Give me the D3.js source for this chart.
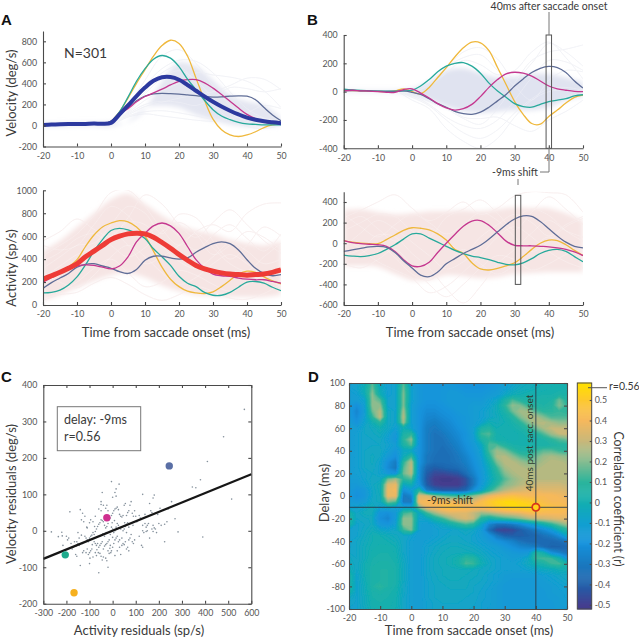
<!DOCTYPE html>
<meta charset="utf-8" />
<style>
  body { margin: 0; background: white; }
  text { font-family: Lato, sans-serif; fill: #3a3a3a; }
  .tick text { font-size: 8.8px; fill: #555; }
  .axis path, .axis line { stroke: #4a4a4a; stroke-width: 1.1px; }
  .title { font-size: 13px; }
  .panel { font-family: "Liberation Sans", sans-serif; font-weight: bold; font-size: 15px; fill: #111; }
  .faint { fill: none; stroke-width: 1px; }
</style>

<body>
  <svg id="figure" width="639" height="639"></svg>
</body>
<script src="https://d3js.org/d3.v7.min.js"></script>
<script>
  // sample times of the traces (ms from saccade onset)
  const times = [-20, -17.5, -15, -12.5, -10, -7.5, -5, -2.5, 0, 2.5, 5, 7.5, 10, 12.5, 15, 17.5, 20, 22.5, 25, 27.5, 30, 32.5, 35, 37.5, 40, 42.5, 45, 47.5, 50];
  const coarseTimes = [-20, -15, -10, -5, 0, 5, 10, 15, 20, 25, 30, 35, 40, 45, 50];
  const timeTicks = [-20, -10, 0, 10, 20, 30, 40, 50];

  // panel A top: velocity
  const velYellow = [5, 8, 12, 15, 12, 15, 15, 12, 40, 130, 260, 400, 530, 660, 760, 810, 780, 660, 450, 240, 60, -40, -90, -105, -90, -60, -20, 5, 15];
  const velGreen = [5, 8, 12, 15, 12, 15, 15, 12, 40, 130, 270, 420, 540, 630, 665, 640, 560, 440, 340, 240, 150, 90, 55, 30, 15, 10, 5, 5, 5];
  const velMagenta = [5, 8, 12, 15, 12, 15, 15, 12, 40, 110, 160, 225, 275, 310, 345, 385, 420, 435, 435, 405, 355, 295, 230, 165, 105, 65, 35, 20, 15];
  const velSlate = [5, 8, 12, 15, 12, 15, 15, 12, 40, 110, 170, 235, 280, 300, 305, 302, 297, 290, 283, 275, 270, 272, 278, 282, 278, 245, 170, 100, 45];
  const velMean = [5, 8, 12, 14, 14, 15, 18, 16, 25, 105, 190, 280, 360, 425, 458, 460, 435, 385, 330, 275, 225, 180, 140, 105, 75, 55, 40, 30, 22];
  const velBandTop = [20, 20, 25, 25, 30, 30, 150, 420, 600, 560, 430, 290, 230, 190, 70];
  const velBandLow = [-10, -10, -5, -5, -10, 40, 170, 190, 170, 100, 50, 10, -10, -10, 0];
  const velFaint = [
    [0, 10, 10, 15, 10, 190, 430, 660, 720, 590, 380, 190, 60, 10, 10],
    [0, 10, 10, 15, 10, 170, 380, 540, 620, 610, 500, 320, 160, 70, 20],
    [0, 10, 10, 15, 10, 120, 240, 330, 400, 500, 480, 460, 420, 330, 170],
    [0, 10, 10, 15, 10, 100, 180, 220, 260, 290, 320, 380, 450, 440, 340],
    [0, 10, 10, 15, 10, 110, 200, 230, 220, 190, 260, 360, 350, 320, 350],
    [0, 10, 10, 15, 10, 90, 130, 140, 120, 90, 60, 70, 120, 190, 160],
    [0, 10, 10, 15, 10, 80, 110, 90, 70, 50, 40, 60, 90, 70, 30],
    [0, 10, 10, 15, 10, 130, 300, 450, 520, 430, 260, 120, 40, -10, 10],
    [0, 10, 10, 15, 10, 140, 320, 500, 560, 400, 200, 60, -10, -30, 0]
  ];

  // panel A bottom: activity
  const actYellow = [215, 240, 280, 330, 395, 510, 610, 680, 715, 735, 725, 680, 600, 470, 330, 225, 160, 120, 105, 100, 115, 160, 215, 270, 295, 285, 245, 210, 185];
  const actGreen = [105, 110, 130, 175, 245, 350, 470, 570, 650, 668, 655, 625, 580, 490, 420, 345, 250, 190, 160, 110, 85, 85, 110, 155, 200, 205, 190, 155, 125];
  const actMagenta = [200, 240, 280, 315, 340, 350, 345, 330, 315, 340, 420, 550, 625, 690, 715, 690, 625, 510, 395, 320, 270, 255, 250, 235, 225, 220, 220, 205, 190];
  const actSlate = [145, 195, 235, 275, 330, 355, 360, 340, 320, 290, 275, 310, 390, 425, 425, 410, 400, 410, 460, 500, 535, 550, 535, 480, 395, 320, 275, 255, 265];
  const actMean = [225, 255, 285, 320, 360, 420, 470, 520, 570, 600, 620, 625, 620, 590, 545, 495, 440, 390, 345, 315, 295, 280, 270, 265, 260, 265, 270, 285, 305];
  const actBandTop = [470, 560, 680, 800, 920, 970, 880, 780, 700, 650, 620, 570, 540, 520, 560];
  const actBandLow = [40, 90, 150, 210, 260, 280, 240, 170, 120, 90, 80, 70, 70, 70, 90];
  const actFaint = [
    [560, 640, 750, 660, 600, 760, 960, 880, 700, 590, 720, 830, 700, 560, 450],
    [430, 520, 620, 780, 980, 1000, 860, 660, 520, 640, 700, 640, 800, 880, 890],
    [320, 420, 520, 540, 700, 860, 800, 620, 790, 760, 560, 400, 520, 680, 600],
    [520, 480, 520, 700, 860, 780, 620, 700, 600, 480, 610, 700, 580, 470, 620],
    [180, 260, 360, 520, 640, 520, 360, 420, 520, 620, 500, 360, 300, 420, 540],
    [80, 120, 200, 320, 400, 280, 160, 200, 300, 260, 180, 120, 180, 260, 300],
    [40, 90, 110, 190, 240, 180, 90, 40, 90, 160, 120, 60, 50, 100, 180],
    [280, 200, 150, 260, 420, 520, 420, 280, 180, 240, 360, 440, 360, 240, 160],
    [380, 460, 580, 620, 520, 420, 500, 640, 720, 620, 440, 520, 640, 590, 480],
    [240, 340, 440, 500, 600, 720, 700, 520, 380, 320, 420, 540, 470, 360, 400]
  ];

  // panel B top: velocity residuals
  const resVelYellow = [10, 8, 5, 3, 2, 0, 5, 20, 0, -15, 30, 100, 170, 245, 310, 350, 345, 290, 170, 50, -70, -160, -225, -230, -175, -130, -80, -40, -25];
  const resVelGreen = [18, 12, 8, 6, 4, 3, 3, 5, 10, 40, 85, 140, 180, 200, 205, 180, 130, 60, 5, -40, -85, -105, -110, -90, -70, -60, -50, -30, -22];
  const resVelMagenta = [5, 10, 6, 4, 0, -5, -5, 15, 20, -10, -45, -85, -115, -130, -120, -90, -35, 30, 85, 125, 137, 130, 110, 75, 40, 20, 10, 2, 0];
  const resVelSlate = [8, 8, 6, 5, 3, 2, 2, 5, -5, -20, -50, -85, -110, -140, -155, -160, -145, -110, -65, -20, 40, 90, 135, 165, 178, 170, 135, 75, 25];
  const resVelBandTop = [10, 10, 10, 10, 20, 70, 150, 165, 130, 100, 105, 125, 125, 100, 65];
  const resVelBandLow = [-5, -5, -5, -5, -25, -60, -105, -140, -150, -140, -130, -130, -110, -60, -35];
  const resVelFaint = [
    [5, 5, 5, 5, -60, -120, -260, -350, -400, -330, -180, -60, 0, 10, 0],
    [5, 5, 5, 5, -40, -100, -200, -290, -330, -270, -150, -50, 20, 30, 10],
    [5, 5, 5, 5, -30, -90, -180, -240, -260, -200, -60, 100, 220, 210, 150],
    [5, 5, 5, 5, -20, -70, -120, -190, -230, -120, 60, 220, 280, 300, 330],
    [5, 5, 5, 5, -10, 30, 160, 280, 310, 230, 90, 200, 340, 280, 180],
    [5, 5, 5, 5, 0, 40, 130, 220, 190, 120, 150, 280, 350, 240, 90],
    [5, 5, 5, 5, 0, 50, 170, 240, 260, 150, 40, -60, 80, 150, 140],
    [5, 5, 5, 5, -10, -50, -100, -180, -190, -180, -240, -280, -200, -140, -60]
  ];

  // panel B bottom: activity residuals
  const resActYellow = [25, 10, 0, -5, -5, 35, 80, 125, 150, 145, 130, 90, 30, -60, -100, -190, -250, -260, -245, -220, -190, -130, -60, 0, 30, 25, -15, -70, -120];
  const resActGreen = [-115, -125, -130, -120, -100, -60, -15, 40, 90, 90, 50, 10, -30, -70, -100, -125, -140, -160, -185, -205, -210, -190, -150, -100, -70, -60, -80, -130, -180];
  const resActMagenta = [25, 5, -5, -10, -15, -30, -80, -160, -220, -225, -185, -90, 0, 85, 165, 215, 220, 175, 100, 20, -20, -25, -25, -30, -35, -45, -60, -85, -120];
  const resActSlate = [-80, -65, -50, -35, -30, -40, -90, -170, -240, -310, -325, -280, -200, -150, -100, -60, -20, 40, 110, 180, 235, 265, 260, 210, 140, 70, 10, -30, -45];
  const resActBandTop = [320, 330, 300, 280, 290, 310, 310, 320, 310, 330, 350, 340, 340, 290, 220];
  const resActBandLow = [-220, -220, -230, -300, -360, -350, -310, -320, -340, -330, -300, -290, -280, -280, -280];
  const resActFaint = [
    [250, 320, 400, 470, 340, 220, 300, 400, 280, 340, 460, 500, 490, 470, 300],
    [120, 200, 280, 260, 120, 60, 250, 330, 420, 290, 130, 300, 450, 330, 180],
    [-120, -60, 80, 60, -100, -240, -440, -580, -420, -200, -60, 100, 220, 120, 60],
    [-200, -240, -160, -60, -220, -400, -520, -400, -240, -120, -160, -260, -200, -110, -60],
    [60, -60, -180, -260, -340, -480, -420, -280, -120, 60, 160, 60, -80, -180, -240],
    [180, 260, 140, 20, 80, 150, 40, -100, 60, 180, 280, 200, 70, 180, 260],
    [-40, 100, 220, 140, 10, -120, -250, -180, -40, 120, 240, 330, 270, 120, 20],
    [280, 160, 60, 180, 280, 200, 90, 180, 300, 220, 60, -80, 20, 160, 240],
    [-180, -100, -20, -140, -300, -360, -220, -60, -200, -300, -210, -60, 60, -70, -190]
  ];

  // panel C: scatter of residuals [activity, velocity]
  const residualPairs = [
    [570, 333], [480, 258], [410, 190], [380, 140], [345, 120], [360, 118], [515, 87], [390, -17], [283, -3], [270, 33],
    [255, 80], [225, -30], [-265, -3], [-235, -16], [-220, -4], [-218, -14], [-185, 52], [-140, -95], [-60, -115], [-20, -100],
    [-100, -90], [130, 100], [180, 98], [175, 90], [160, 75], [205, 62], [240, 60], [-5, 135], [15, 115], [10, 105],
    [28, 128], [15, 95], [0, 92], [-45, 105], [-50, 80], [-50, 72], [-40, 70], [-140, 58], [-130, 48], [-135, 30],
    [-125, 25], [-120, 40], [-110, 8], [-112, 10], [-150, -5], [-190, -20], [-195, -25], [-180, -35], [-175, -50], [-155, -30],
    [-150, -35], [-145, -40], [-160, -65], [-155, -70], [-130, -60], [-125, -55], [-115, -60], [-110, -50], [-105, -65], [-100, -60],
    [-95, -55], [-90, -50], [-98, -75], [-85, -72], [-80, -30], [-75, -35], [-70, -40], [-65, -35], [-60, -45], [-55, -40],
    [-50, -35], [-45, -30], [-40, -50], [-35, -42], [-30, -38], [-25, -35], [-20, -30], [-15, -25], [-10, -40], [-5, -55],
    [0, -45], [5, -35], [10, -25], [15, -20], [20, -15], [25, -30], [30, -45], [35, -65], [40, -40], [45, -35],
    [50, -38], [55, -30], [60, -50], [65, -45], [70, -25], [75, -20], [80, -10], [85, -30], [90, -35], [95, -25],
    [-70, -68], [-62, -60], [-55, -62], [-50, -70], [-45, -80], [-40, -72], [-30, -75], [-25, -82], [-15, -62], [-8, -60],
    [10, -68], [20, -55], [-120, -15], [-115, -20], [-110, -25], [-105, -30], [-100, -20], [-95, -15], [-90, -12], [-85, -5],
    [-80, -10], [-75, -2], [-70, 5], [-65, 12], [-60, 18], [-55, 22], [-50, 30], [-45, 28], [-40, 25], [-35, 15],
    [-30, 8], [-25, 12], [-20, 20], [-15, 30], [-10, 35], [-5, 42], [0, 48], [5, 55], [10, 60], [15, 62],
    [20, 65], [25, 58], [30, 45], [35, 40], [40, 38], [45, 42], [50, 70], [55, 75], [60, 42], [65, 50],
    [70, 55], [75, 70], [80, 80], [85, 48], [90, 40], [95, 55], [100, 40], [20, 20], [25, 15], [30, 8],
    [35, 5], [40, 10], [45, 0], [50, 5], [55, 12], [60, 18], [65, 22], [70, 10], [-5, 10], [0, 5],
    [5, -5], [10, 0], [15, 10], [-75, 40], [-85, 25], [-95, 30], [-100, 22], [-60, 60], [-50, 55], [-30, 62],
    [-20, 55], [-25, 70], [125, -40], [130, -45], [135, -5], [130, 15], [140, 20], [145, 10], [150, 15], [155, 20],
    [130, 0], [145, -2], [150, 0], [160, -20], [170, 5], [175, 15], [180, 8], [185, 5], [190, -5], [175, -2],
    [200, 20], [210, 15], [225, 18], [235, 25], [195, 45], [170, 50], [165, 55], [140, 45], [120, 35], [115, -15],
    [-215, -40], [-200, -15], [-165, -30], [-170, -45], [-145, -20], [-135, -12], [-75, -60], [-68, -52], [-35, -15], [-28, -5],
    [-10, -10], [0, -18], [-20, -55], [-12, -48], [30, -25], [40, -20], [70, -55], [-130, -35], [-88, -38], [-78, 12],
    [52, 22], [88, 15], [105, 25], [115, 42], [-158, -42], [-55, -15], [8, 28], [-2, 22], [-42, -8], [60, -5]
  ];
  const highlightPoints = [
    { x: 245, y: 178, color: "#5a6fa5" },
    { x: -25, y: 36, color: "#cf2f8f" },
    { x: -205, y: -66, color: "#1eaa8c" },
    { x: -167, y: -170, color: "#f6b01e" }
  ];
  const fitLineX = [-300, 600];
  const fitLineY = [-77, 155];

  // panel D: correlation map, one row per delay, one value (r x 100) per time
  const delays = d3.range(100, -101, -5);
  const corrRows = [
    [-10, -8, -2, 15, -5, -10, -8, 15, -10, -15, -18, -18, -18, -16, -18, -20, -20, -20, -18, -15, -10, -8, -5, -3, -2, 0, 0, 2, 2],
    [-10, -8, 0, 18, -2, -10, -8, 18, -8, -15, -18, -18, -16, -15, -16, -18, -18, -18, -16, -14, -10, -6, -3, -2, 0, 0, 2, 2, 3],
    [-12, -10, -2, 22, 0, -10, -8, 20, -8, -15, -18, -18, -16, -14, -14, -16, -16, -16, -14, -12, -6, -2, 0, 2, 2, 3, 3, 5, 5],
    [-12, -12, -8, 22, 15, -8, -8, 20, -8, -15, -18, -18, -16, -14, -14, -14, -14, -14, -10, -6, 5, 14, 8, 5, 5, 5, 6, 18, 8],
    [-14, -20, -10, 22, 22, -8, -8, 20, -10, -16, -20, -20, -18, -15, -14, -14, -12, -12, -8, -2, 10, 22, 20, 12, 8, 6, 8, 20, 12],
    [-14, -24, -12, 18, 28, -5, -8, 25, -10, -18, -22, -22, -20, -18, -15, -14, -12, -10, -6, -2, 5, 18, 25, 24, 15, 10, 10, 12, 10],
    [-14, -22, -10, 10, 30, -5, -8, 28, -10, -18, -24, -25, -22, -20, -17, -15, -12, -10, -6, -3, 2, 8, 20, 26, 26, 20, 14, 14, 14],
    [-12, -18, -8, 0, 10, -5, -8, 25, -10, -18, -26, -28, -25, -22, -18, -15, -12, -8, 0, -2, 0, 4, 10, 20, 27, 28, 25, 22, 22],
    [-12, -12, -6, -4, 0, -5, -10, 0, -8, -18, -28, -30, -27, -24, -20, -16, -10, 5, 8, 0, 0, 2, 5, 10, 18, 26, 30, 30, 30],
    [-12, -10, -6, -5, -3, -8, -15, 5, 10, -18, -28, -32, -30, -26, -22, -18, -10, 12, 15, 2, 0, 0, 2, 5, 8, 15, 24, 30, 32],
    [-12, -10, -6, -6, -5, -10, -16, 10, 22, -18, -28, -32, -32, -28, -24, -18, -12, 5, 10, 2, 2, 0, 2, 3, 4, 6, 10, 15, 18],
    [-12, -10, -6, -6, -6, -8, -12, 5, 15, -18, -28, -32, -33, -30, -26, -20, -14, -5, 15, 15, 8, 4, 3, 3, 5, 5, 6, 8, 8],
    [-12, -10, -6, -5, -5, -10, -16, -5, -5, -18, -28, -32, -34, -32, -28, -22, -16, -8, 14, 24, 20, 12, 6, 6, 12, 16, 16, 12, 10],
    [-12, -10, -6, -4, -6, -14, -20, -2, 12, -18, -30, -33, -34, -33, -30, -25, -18, -10, 8, 26, 28, 22, 15, 12, 18, 24, 26, 24, 22],
    [-12, -10, -6, -4, -8, -20, -28, 10, 28, -18, -30, -34, -34, -33, -31, -27, -20, -12, 2, 20, 28, 28, 24, 20, 22, 26, 28, 28, 26],
    [-12, -10, -6, -5, -8, -22, -30, 15, 30, -20, -36, -40, -38, -36, -34, -30, -22, -14, -2, 12, 25, 28, 28, 26, 26, 28, 28, 28, 28],
    [-12, -10, -8, -6, -8, -15, -18, 18, 28, -20, -40, -46, -46, -44, -42, -34, -25, -15, -4, 8, 20, 26, 28, 28, 28, 28, 28, 28, 28],
    [-12, -12, -8, -5, -5, 18, 25, 10, 15, -20, -42, -50, -52, -52, -50, -44, -30, -16, -5, 5, 15, 22, 26, 28, 28, 28, 28, 28, 28],
    [-14, -14, -10, -5, -2, 35, 38, -5, 0, -16, -40, -48, -50, -50, -50, -44, -30, -14, -2, 10, 20, 24, 28, 30, 32, 32, 32, 32, 30],
    [-14, -18, -15, -6, -2, 38, 40, -20, -12, 8, -28, -36, -40, -40, -40, -36, -20, -8, 8, 20, 28, 32, 34, 36, 38, 36, 36, 36, 34],
    [-14, -20, -16, -6, -3, 38, 38, -30, -25, 35, 34, 24, 18, 14, 12, 16, 22, 30, 38, 42, 44, 46, 44, 42, 42, 42, 42, 40, 38],
    [-12, -15, -12, -5, -4, 20, 15, -30, -30, 40, 42, 42, 40, 40, 38, 34, 36, 44, 50, 54, 56, 56, 54, 52, 48, 44, 42, 42, 40],
    [-10, -8, -6, -2, -8, -5, -10, -8, -10, 20, 38, 42, 46, 48, 46, 44, 44, 44, 48, 52, 54, 56, 56, 56, 56, 48, 46, 44, 43],
    [5, -6, -2, -2, -18, -20, -14, 12, 16, -5, 12, 24, 32, 36, 36, 36, 30, 24, 26, 30, 34, 36, 38, 42, 44, 42, 42, 42, 40],
    [8, -6, -5, -4, -20, -24, -14, 22, 22, -8, -5, 4, 12, 22, 30, 34, 30, 8, 2, 8, 12, 15, 20, 26, 30, 32, 34, 36, 36],
    [6, -8, -6, -4, -15, -18, -10, 22, 22, -10, -12, -8, -4, 2, 8, 14, 10, -5, -24, -32, -32, -28, -22, -14, -6, 2, 10, 18, 25],
    [-8, -8, -5, -2, -6, -8, -6, 12, 20, -10, -12, -10, -8, -8, -6, -4, -6, -12, -34, -46, -48, -46, -40, -34, -28, -22, -14, 0, 8],
    [-8, -8, -4, 0, 0, -2, -4, -6, -8, -12, -12, -10, -8, -6, -6, -6, -8, -12, -18, -30, -38, -40, -40, -38, -36, -32, -28, -20, -5],
    [-8, -6, -3, 0, 1, 0, -2, -6, -10, -12, -10, -8, -6, -5, -5, -6, -8, -10, -14, -18, -22, -26, -32, -35, -36, -36, -36, -34, -30],
    [-8, -6, -2, 1, 2, 2, 0, -6, -10, -12, -8, -6, -4, -3, -3, -4, -5, -8, -10, -12, -16, -20, -24, -26, -28, -34, -38, -38, -36],
    [-6, -6, -2, 2, 3, 3, 1, -6, -10, -12, -8, -5, -3, -2, -2, -2, -3, -5, -8, -10, -12, -14, -16, -15, 8, 0, -20, -26, -32],
    [-4, -6, -2, 3, 4, 4, 2, -5, -10, -12, -7, -4, -2, -1, 2, 10, 8, -2, -6, -8, -10, -12, -10, -5, 12, 14, 12, 2, -16],
    [-2, -6, 0, 4, 5, 5, 3, -4, -10, -12, -7, -4, -2, -1, 3, 14, 12, 0, -5, -8, -10, -10, -8, -4, 2, 5, 12, 14, 5],
    [0, -6, 0, 5, 6, 6, 4, -4, -10, -12, -7, -4, -3, -2, -2, -2, -3, -5, -6, -8, -10, -10, -10, -8, -6, -4, -3, 0, 0],
    [6, -8, 0, 5, 6, 6, 4, -4, -10, -12, -7, -5, -3, -3, -3, -3, -4, -5, -8, -10, -12, -13, -13, -13, -12, -10, -8, -6, -5],
    [6, -8, -1, 5, 6, 6, 4, -4, -10, -12, -8, -5, -4, -3, -3, -4, -5, -6, -8, -10, -13, -14, -14, -14, -14, -12, -10, -8, -6],
    [8, -8, -2, 6, 10, 6, 3, -5, -10, -12, -8, -6, -5, -4, -4, -4, -6, -7, -9, -12, -14, -14, -14, -14, -14, -13, -12, -10, -8],
    [4, -8, -2, 4, 5, 4, 2, -5, -10, -12, -8, -6, -5, -5, -5, -5, -6, -8, -10, -12, -14, -15, -15, -15, -14, -14, -12, -11, -10],
    [-4, -8, -3, 3, 4, 3, 1, -6, -10, -12, -8, -6, -5, -5, -5, -6, -7, -8, -10, -12, -14, -15, -15, -15, -15, -14, -13, -12, -10],
    [-6, -8, -3, 2, 3, 2, 1, -6, -10, -12, -9, -7, -6, -6, -6, -6, -7, -9, -10, -12, -14, -15, -15, -15, -15, -14, -14, -12, -11],
    [-8, -8, -4, 1, 2, 2, 0, -6, -10, -12, -9, -7, -6, -6, -6, -7, -8, -9, -11, -12, -14, -15, -15, -15, -15, -15, -14, -13, -12]
  ];
  const colorStops = [-0.52, -0.5, -0.4, -0.3, -0.2, -0.1, 0, 0.1, 0.2, 0.3, 0.4, 0.5, 0.58];
  const colorValues = ["#423c8c", "#453f90", "#2060aa", "#1a7ac0", "#1592dc", "#12a0d0", "#12aeb0", "#2cb59c", "#86bc90", "#c9b87a", "#f6b85c", "#fdc92e", "#ffe000"];
  const colorTicks = [-0.5, -0.4, -0.3, -0.2, -0.1, 0, 0.1, 0.2, 0.3, 0.4, 0.5];

  const traceColors = { yellow: "#efb83c", green: "#27a99b", magenta: "#c5378f", slate: "#5f6d97" };

  const svg = d3.select("#figure");
  const plainFormat = (d) => String(d);

  svg.append("filter").attr("id", "bandBlur").append("feGaussianBlur").attr("stdDeviation", 2.5);

  // one line panel: faint traces, shaded band, coloured traces
  function linePanel(opts) {
    const x = d3.scaleLinear().domain([-20, 50]).range(opts.xRange);
    const y = d3.scaleLinear().domain(opts.yDomain).range(opts.yRange);
    const g = svg.append("g");

    const clipId = ("clip" + opts.xRange[0] + opts.yRange[0]).replace(/\./g, "");
    svg.append("clipPath").attr("id", clipId).append("rect")
      .attr("x", opts.xRange[0]).attr("width", opts.xRange[1] - opts.xRange[0])
      .attr("y", y(opts.clipTop)).attr("height", opts.yRange[0] - y(opts.clipTop));
    const plot = g.append("g").attr("clip-path", "url(#" + clipId + ")");

    const coarseLine = d3.line().curve(d3.curveCatmullRom)
      .x((d, i) => x(coarseTimes[i])).y((d) => y(d));
    plot.selectAll(".faint").data(opts.faint).enter().append("path")
      .attr("class", "faint").attr("stroke", opts.faintColor).attr("d", coarseLine);

    const band = d3.area().curve(d3.curveCatmullRom)
      .x((d, i) => x(coarseTimes[i]))
      .y0((d, i) => y(opts.bandLow[i])).y1((d) => y(d));
    plot.append("path").attr("d", band(opts.bandTop)).attr("fill", opts.bandColor).attr("filter", "url(#bandBlur)");
    // thin pale streaks over the band, where single trials leave gaps
    plot.selectAll(".streak").data(opts.faint).enter().append("path")
      .attr("fill", "none").attr("stroke", "#fff").attr("stroke-width", 0.7).attr("opacity", 0.35).attr("d", coarseLine);

    const fineLine = d3.line().curve(d3.curveCatmullRom)
      .x((d, i) => x(times[i])).y((d) => y(d));
    opts.traces.forEach((t) => {
      plot.append("path").attr("fill", "none").attr("stroke", t.color)
        .attr("stroke-width", t.width || 1.3).attr("d", fineLine(t.values));
    });

    // axes with ticks pointing into the plot
    g.append("g").attr("class", "axis").attr("transform", "translate(0," + opts.yRange[0] + ")")
      .call(d3.axisBottom(x).tickValues(timeTicks).tickFormat(plainFormat).tickSize(-3).tickSizeOuter(0).tickPadding(6));
    g.append("g").attr("class", "axis").attr("transform", "translate(" + opts.xRange[0] + ",0)")
      .call(d3.axisLeft(y).tickValues(opts.yTicks).tickFormat(plainFormat).tickSize(-3).tickSizeOuter(0).tickPadding(6));
    return { x, y };
  }

  linePanel({
    xRange: [43, 281], yRange: [146.5, 31], yDomain: [-200, 898], clipTop: 898,
    yTicks: [-200, 0, 200, 400, 600, 800],
    faint: velFaint, faintColor: "#eff0f5", bandTop: velBandTop, bandLow: velBandLow, bandColor: "#e4e6f1",
    traces: [
      { color: traceColors.yellow, values: velYellow },
      { color: traceColors.slate, values: velSlate },
      { color: traceColors.magenta, values: velMagenta },
      { color: traceColors.green, values: velGreen },
      { color: "#2c399f", values: velMean, width: 4 }
    ]
  });

  linePanel({
    xRange: [43, 281], yRange: [305, 190.3], yDomain: [0, 1000], clipTop: 1000,
    yTicks: [0, 200, 400, 600, 800, 1000],
    faint: actFaint, faintColor: "#f7ecec", bandTop: actBandTop, bandLow: actBandLow, bandColor: "#f6e5e4",
    traces: [
      { color: traceColors.yellow, values: actYellow },
      { color: traceColors.green, values: actGreen },
      { color: traceColors.slate, values: actSlate },
      { color: traceColors.magenta, values: actMagenta },
      { color: "#ee3b36", values: actMean, width: 5 }
    ]
  });

  const panelB1 = linePanel({
    xRange: [343.7, 583], yRange: [148.3, 35], yDomain: [-400, 400], clipTop: 400,
    yTicks: [-400, -200, 0, 200, 400],
    faint: resVelFaint, faintColor: "#eff0f5", bandTop: resVelBandTop, bandLow: resVelBandLow, bandColor: "#e0e3f0",
    traces: [
      { color: traceColors.yellow, values: resVelYellow },
      { color: traceColors.green, values: resVelGreen },
      { color: traceColors.slate, values: resVelSlate },
      { color: traceColors.magenta, values: resVelMagenta }
    ]
  });

  const panelB2 = linePanel({
    xRange: [343.7, 583], yRange: [305, 191.7], yDomain: [-600, 500], clipTop: 500,
    yTicks: [-600, -400, -200, 0, 200, 400],
    faint: resActFaint, faintColor: "#f7ecec", bandTop: resActBandTop, bandLow: resActBandLow, bandColor: "#f6e5e4",
    traces: [
      { color: traceColors.yellow, values: resActYellow },
      { color: traceColors.green, values: resActGreen },
      { color: traceColors.magenta, values: resActMagenta },
      { color: traceColors.slate, values: resActSlate }
    ]
  });

  // the two time windows and their leaders
  const windowB1 = [39.2, 40.8];
  const windowB2 = [30.2, 31.8];
  svg.append("rect")
    .attr("x", panelB1.x(windowB1[0])).attr("width", panelB1.x(windowB1[1]) - panelB1.x(windowB1[0]))
    .attr("y", panelB1.y(400)).attr("height", panelB1.y(-400) - panelB1.y(400))
    .attr("fill", "none").attr("stroke", "#555").attr("stroke-width", 1);
  svg.append("rect")
    .attr("x", panelB2.x(windowB2[0])).attr("width", panelB2.x(windowB2[1]) - panelB2.x(windowB2[0]))
    .attr("y", panelB2.y(465)).attr("height", panelB2.y(-400) - panelB2.y(465))
    .attr("fill", "none").attr("stroke", "#555").attr("stroke-width", 1);
  svg.append("path").attr("d", "M549,12V35M549,148V172H540M518,179V185")
    .attr("fill", "none").attr("stroke", "#777").attr("stroke-width", 1);
  svg.append("text").attr("x", 549).attr("y", 10).attr("text-anchor", "middle").style("font-size", "10.5px").text("40ms after saccade onset");
  svg.append("text").attr("x", 515).attr("y", 176).attr("text-anchor", "middle").style("font-size", "10.5px").text("-9ms shift");

  // titles of the top panels
  const yLabel = (txt, px, py) => svg.append("text").attr("class", "title").attr("text-anchor", "middle")
    .attr("transform", "translate(" + px + "," + py + ") rotate(-90)").text(txt);
  const xLabel = (txt, px, py) => svg.append("text").attr("class", "title").attr("text-anchor", "middle")
    .attr("x", px).attr("y", py).text(txt);

  yLabel("Velocity (deg/s)", 16, 93);
  yLabel("Activity (sp/s)", 16, 268);
  xLabel("Time from saccade onset (ms)", 166, 337);
  xLabel("Time from saccade onset (ms)", 470, 337);
  svg.append("text").attr("x", 64).attr("y", 58).style("font-size", "14px").text("N=301");

  [["A", 1, 25], ["B", 307, 25], ["C", 1, 382], ["D", 308, 382]].forEach((p) => {
    svg.append("text").attr("class", "panel").attr("x", p[1]).attr("y", p[2]).text(p[0]);
  });

  // panel C
  const xC = d3.scaleLinear().domain([-300, 600]).range([43.3, 251.3]);
  const yC = d3.scaleLinear().domain([-200, 400]).range([603.7, 385]);
  const gC = svg.append("g");
  gC.selectAll(".dot").data(residualPairs).enter().append("circle")
    .attr("cx", (d) => xC(d[0])).attr("cy", (d) => yC(d[1])).attr("r", 0.8).attr("fill", "#85919c");
  gC.append("line")
    .attr("x1", xC(fitLineX[0])).attr("y1", yC(fitLineY[0]))
    .attr("x2", xC(fitLineX[1])).attr("y2", yC(fitLineY[1]))
    .attr("stroke", "#161616").attr("stroke-width", 2.2);
  gC.selectAll(".big").data(highlightPoints).enter().append("circle")
    .attr("cx", (d) => xC(d.x)).attr("cy", (d) => yC(d.y)).attr("r", 3.7).attr("fill", (d) => d.color);
  gC.append("g").attr("class", "axis").attr("transform", "translate(0,603.7)")
    .call(d3.axisBottom(xC).ticks(9).tickFormat(plainFormat).tickSize(-3).tickSizeOuter(0).tickPadding(6));
  gC.append("g").attr("class", "axis").attr("transform", "translate(43.3,0)")
    .call(d3.axisLeft(yC).ticks(6).tickFormat(plainFormat).tickSize(-3).tickSizeOuter(0).tickPadding(6));
  gC.append("g").attr("class", "axis").attr("transform", "translate(0,385)")
    .call(d3.axisTop(xC).ticks(9).tickFormat("").tickSize(-3).tickSizeOuter(0));
  gC.append("g").attr("class", "axis").attr("transform", "translate(251.3,0)")
    .call(d3.axisRight(yC).ticks(6).tickFormat("").tickSize(-3).tickSizeOuter(0));
  gC.append("rect").attr("x", 57.3).attr("y", 406.7).attr("width", 83.4).attr("height", 44)
    .attr("fill", "white").attr("stroke", "#777").attr("stroke-width", 1);
  gC.append("text").attr("x", 64).attr("y", 424).style("font-size", "12.5px").text("delay: -9ms");
  gC.append("text").attr("x", 64).attr("y", 441).style("font-size", "12.5px").text("r=0.56");
  yLabel("Velocity residuals (deg/s)", 16, 494);
  xLabel("Activity residuals (sp/s)", 139, 635);

  // panel D: filled contours of the correlation map
  const xD = d3.scaleLinear().domain([-20, 50]).range([349, 567]);
  const yD = d3.scaleLinear().domain([-100, 100]).range([609, 383]);
  const color = d3.scaleLinear().domain(colorStops).range(colorValues);
  const gridValues = corrRows.flat().map((v) => v / 100);
  const levels = d3.range(-0.6, 0.6, 0.015);
  const contours = d3.contours().size([times.length, delays.length]).thresholds(levels)(gridValues);
  // grid index to data coordinates through the scales
  const gridProjection = d3.geoTransform({
    point: function (cx, cy) {
      const t = -20 + (cx - 0.5) * 2.5;
      const dl = 100 - (cy - 0.5) * 5;
      this.stream.point(xD(t), yD(dl));
    }
  });
  svg.append("clipPath").attr("id", "clipD").append("rect")
    .attr("x", xD(-20)).attr("y", yD(100)).attr("width", xD(50) - xD(-20)).attr("height", yD(-100) - yD(100));
  svg.append("filter").attr("id", "soft").append("feGaussianBlur").attr("stdDeviation", 0.6);
  const gD = svg.append("g");
  gD.append("g").attr("clip-path", "url(#clipD)").append("g").attr("filter", "url(#soft)")
    .selectAll("path").data(contours).enter().append("path")
    .attr("d", d3.geoPath(gridProjection))
    .attr("fill", (d) => color(d.value));

  gD.append("g").attr("class", "axis").attr("transform", "translate(0,609)")
    .call(d3.axisBottom(xD).tickValues(timeTicks).tickFormat(plainFormat).tickSize(-3).tickSizeOuter(0).tickPadding(6));
  gD.append("g").attr("class", "axis").attr("transform", "translate(349,0)")
    .call(d3.axisLeft(yD).ticks(10).tickFormat(plainFormat).tickSize(-3).tickSizeOuter(0).tickPadding(4));
  gD.append("g").attr("class", "axis").attr("transform", "translate(0,383)")
    .call(d3.axisTop(xD).tickValues(timeTicks).tickFormat("").tickSize(-3).tickSizeOuter(0));
  gD.append("g").attr("class", "axis").attr("transform", "translate(567,0)")
    .call(d3.axisRight(yD).ticks(10).tickFormat("").tickSize(-3).tickSizeOuter(0));

  const markTime = 40;
  const markDelay = -10;
  gD.append("line").attr("x1", xD(-20)).attr("x2", xD(50)).attr("y1", yD(markDelay)).attr("y2", yD(markDelay))
    .attr("stroke", "#2a3a4a").attr("stroke-width", 0.9);
  gD.append("line").attr("x1", xD(markTime)).attr("x2", xD(markTime)).attr("y1", yD(100)).attr("y2", yD(-100))
    .attr("stroke", "#2a3a4a").attr("stroke-width", 0.9);
  gD.append("circle").attr("cx", xD(markTime)).attr("cy", yD(markDelay)).attr("r", 3.7)
    .attr("fill", "#ffd21a").attr("stroke", "#d8341c").attr("stroke-width", 1.7);
  gD.append("text").attr("x", 427).attr("y", 504).style("font-size", "10.5px").style("fill", "#3b3320").text("-9ms shift");
  gD.append("text").attr("text-anchor", "middle").attr("transform", "translate(533,443) rotate(-90)")
    .style("font-size", "10px").style("fill", "#2e3a2e").text("40ms post sacc. onset");
  yLabel("Delay (ms)", 329, 493);
  xLabel("Time from saccade onset (ms)", 469, 635);

  // colour bar
  const yBar = d3.scaleLinear().domain([-0.52, 0.583]).range([609, 383]);
  const barLevels = d3.range(-0.52, 0.583, 0.005);
  const gBar = svg.append("g");
  gBar.selectAll("rect").data(barLevels).enter().append("rect")
    .attr("x", 577.3).attr("width", 14.4)
    .attr("y", (d) => yBar(d + 0.005)).attr("height", (d) => yBar(d) - yBar(d + 0.005) + 0.5)
    .attr("fill", (d) => color(d));
  gBar.append("rect").attr("x", 577.3).attr("y", 383).attr("width", 14.4).attr("height", 226)
    .attr("fill", "none").attr("stroke", "#4a4a4a").attr("stroke-width", 1);
  const barAxis = gBar.append("g").attr("class", "axis").attr("transform", "translate(591.7,0)")
    .call(d3.axisRight(yBar).tickValues(colorTicks).tickFormat((d) => (d === 0 ? "0" : d3.format(".1f")(d).replace("−", "-"))).tickSize(-2).tickSizeOuter(0).tickPadding(3));
  barAxis.select(".domain").remove();
  gBar.append("line").attr("x1", 588).attr("x2", 607).attr("y1", yBar(0.56)).attr("y2", yBar(0.56)).attr("stroke", "#555");
  gBar.append("text").attr("x", 609).attr("y", yBar(0.56) + 2).style("font-size", "10.5px").text("r=0.56");
  svg.append("text").attr("class", "title").attr("text-anchor", "middle").style("font-size", "12.4px")
    .attr("transform", "translate(614,499) rotate(90)").text("Correlation coefficient (r)");
</script>
